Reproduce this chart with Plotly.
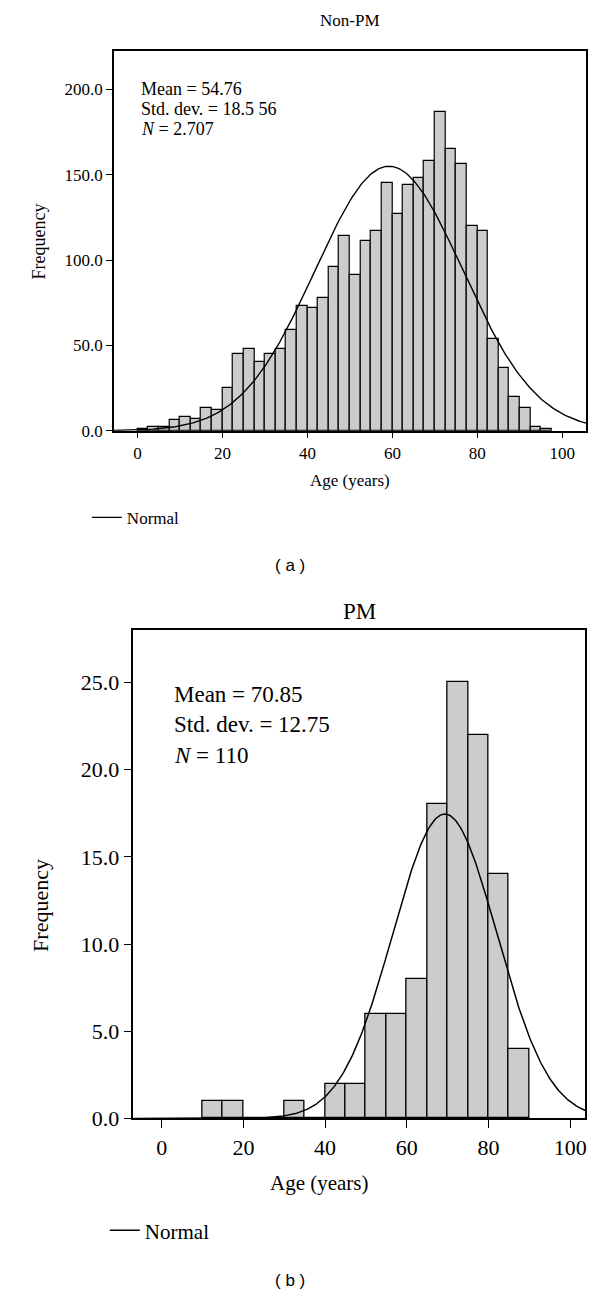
import numpy as np
import plotly.graph_objects as go

# ---------------- data: (a) Non-PM ----------------
a_bin_width = 2.5
a_bin_left = [0, 2.5, 5, 7.5, 10, 12.5, 15, 17.5, 20, 22.5, 25, 27.5, 30, 32.5, 35, 37.5,
              40, 42.5, 45, 47.5, 50, 52.5, 55, 57.5, 60, 62.5, 65, 67.5, 70, 72.5, 75, 77.5,
              80, 82.5, 85, 87.5, 90, 92.5, 95]
a_counts = [1, 2, 2, 6, 8, 7, 13, 12, 25, 45, 48, 40, 45, 48, 59, 73,
            72, 78, 96, 114, 91, 111, 117, 145, 127, 144, 148, 158, 187, 165, 156, 120,
            117, 54, 37, 20, 13, 2, 1]
a_curve_mean = 59.2
a_curve_sd = 17.4
a_curve_peak = 155.0
a_stats = ["Mean = 54.76", "Std. dev. = 18.5 56", "<i>N</i> = 2.707"]
a_title = "Non-PM"

# ---------------- data: (b) PM ----------------
b_bin_width = 5
b_bin_left = [10, 15, 20, 25, 30, 35, 40, 45, 50, 55, 60, 65, 70, 75, 80, 85]
b_counts = [1, 1, 0, 0, 1, 0, 2, 2, 6, 6, 8, 18, 25, 22, 14, 4]
b_curve_mean = 69.3
b_curve_sd = 12.75
b_curve_peak = 17.45
b_stats = ["Mean = 70.85", "Std. dev. = 12.75", "<i>N</i> = 110"]
b_title = "PM"

x_tick_vals = [0, 20, 40, 60, 80, 100]
a_y_ticks = [0, 50, 100, 150, 200]
b_y_ticks = [0, 5, 10, 15, 20, 25]

SERIF = "Liberation Serif, Times New Roman, serif"
SANS = "Liberation Sans, Arial, sans-serif"
BAR_FILL = "#cccccc"

# ranges / domains
a_xr = [-5.6, 105.6]
a_yr = [0, 222.5]
b_xr = [-6.9, 103.7]
b_yr = [0, 28.0]

H = 1300.0
W = 600.0
def py(pix):
    return 1 - pix / H
def px(pix):
    return pix / W

fig = go.Figure()

# (a) bars
fig.add_trace(go.Bar(
    x=[l + a_bin_width / 2 for l in a_bin_left], y=a_counts, width=a_bin_width,
    marker=dict(color=BAR_FILL, line=dict(color="black", width=1.2)),
    xaxis="x", yaxis="y", showlegend=False, hoverinfo="x+y"))
xa = np.linspace(a_xr[0], a_xr[1], 400)
ya = a_curve_peak * np.exp(-0.5 * ((xa - a_curve_mean) / a_curve_sd) ** 2)
fig.add_trace(go.Scatter(x=xa, y=ya, mode="lines", line=dict(color="black", width=1.4),
                         name="Normal", xaxis="x", yaxis="y", legend="legend"))

# (b) bars
fig.add_trace(go.Bar(
    x=[l + b_bin_width / 2 for l in b_bin_left], y=b_counts, width=b_bin_width,
    marker=dict(color=BAR_FILL, line=dict(color="black", width=1.3)),
    xaxis="x2", yaxis="y2", showlegend=False, hoverinfo="x+y"))
xb = np.linspace(b_xr[0], b_xr[1], 400)
yb = b_curve_peak * np.exp(-0.5 * ((xb - b_curve_mean) / b_curve_sd) ** 2)
fig.add_trace(go.Scatter(x=xb, y=yb, mode="lines", line=dict(color="black", width=1.5),
                         name="Normal", xaxis="x2", yaxis="y2", legend="legend2"))

axis_common = dict(showgrid=False, zeroline=False, showline=True, linecolor="black",
                   linewidth=1.5, mirror=True, ticks="outside", tickcolor="black",
                   tickwidth=1.3)

fig.update_layout(
    width=600, height=1300,
    margin=dict(l=0, r=0, t=0, b=0),
    paper_bgcolor="white", plot_bgcolor="white",
    bargap=0,
    font=dict(family=SERIF, color="black"),
    xaxis=dict(domain=[px(106), px(579)], range=a_xr, anchor="y",
               tickvals=x_tick_vals, ticklen=6, tickfont=dict(size=17, family=SERIF),
               **axis_common),
    yaxis=dict(domain=[py(427), py(43.5)], range=a_yr, anchor="x",
               tickvals=a_y_ticks, tickformat=".1f", ticklen=6,
               tickfont=dict(size=17, family=SERIF), **axis_common),
    xaxis2=dict(domain=[px(125.7), px(578.3)], range=b_xr, anchor="y2",
                tickvals=x_tick_vals, ticklen=8, tickfont=dict(size=22, family=SERIF),
                **axis_common),
    yaxis2=dict(domain=[py(1121.7), py(628.3)], range=b_yr, anchor="x2",
                tickvals=b_y_ticks, tickformat=".1f", ticklen=8,
                tickfont=dict(size=22, family=SERIF), **axis_common),
    legend=dict(x=px(79), y=py(515), xanchor="left", yanchor="middle",
                font=dict(size=17, family=SERIF), bgcolor="rgba(0,0,0,0)"),
    legend2=dict(x=px(97), y=py(1235), xanchor="left", yanchor="middle",
                 font=dict(size=21, family=SERIF), bgcolor="rgba(0,0,0,0)"),
)

ann = []
# titles
ann.append(dict(text=a_title, x=px(343), y=py(13), xref="paper", yref="paper",
                showarrow=False, font=dict(size=17, family=SERIF), xanchor="center", yanchor="middle"))
ann.append(dict(text=b_title, x=px(352), y=py(610), xref="paper", yref="paper",
                showarrow=False, font=dict(size=23, family=SERIF), xanchor="center", yanchor="middle"))
# axis titles
ann.append(dict(text="Age (years)", x=px(343), y=py(477), xref="paper", yref="paper",
                showarrow=False, font=dict(size=17, family=SERIF), xanchor="center", yanchor="middle"))
ann.append(dict(text="Frequency", x=px(31), y=py(236), xref="paper", yref="paper", textangle=-90,
                showarrow=False, font=dict(size=18, family=SERIF), xanchor="center", yanchor="middle"))
ann.append(dict(text="Age (years)", x=px(312), y=py(1187), xref="paper", yref="paper",
                showarrow=False, font=dict(size=21, family=SERIF), xanchor="center", yanchor="middle"))
ann.append(dict(text="Frequency", x=px(33), y=py(906), xref="paper", yref="paper", textangle=-90,
                showarrow=False, font=dict(size=22, family=SERIF), xanchor="center", yanchor="middle"))
# stats
for i, s in enumerate(a_stats):
    ann.append(dict(text=s, x=px(131), y=py(82 + 20 * i), xref="paper", yref="paper",
                    showarrow=False, font=dict(size=18, family=SERIF), xanchor="left", yanchor="middle"))
for i, s in enumerate(b_stats):
    ann.append(dict(text=s, x=px(164), y=py(693 + 31 * i), xref="paper", yref="paper",
                    showarrow=False, font=dict(size=23, family=SERIF), xanchor="left", yanchor="middle"))
# panel labels
ann.append(dict(text="( a )", x=px(282), y=py(563), xref="paper", yref="paper",
                showarrow=False, font=dict(size=17, family=SANS), xanchor="center", yanchor="middle"))
ann.append(dict(text="( b )", x=px(282), y=py(1285), xref="paper", yref="paper",
                showarrow=False, font=dict(size=17, family=SANS), xanchor="center", yanchor="middle"))
fig.update_layout(annotations=ann)

fig.write_html("out.html")
